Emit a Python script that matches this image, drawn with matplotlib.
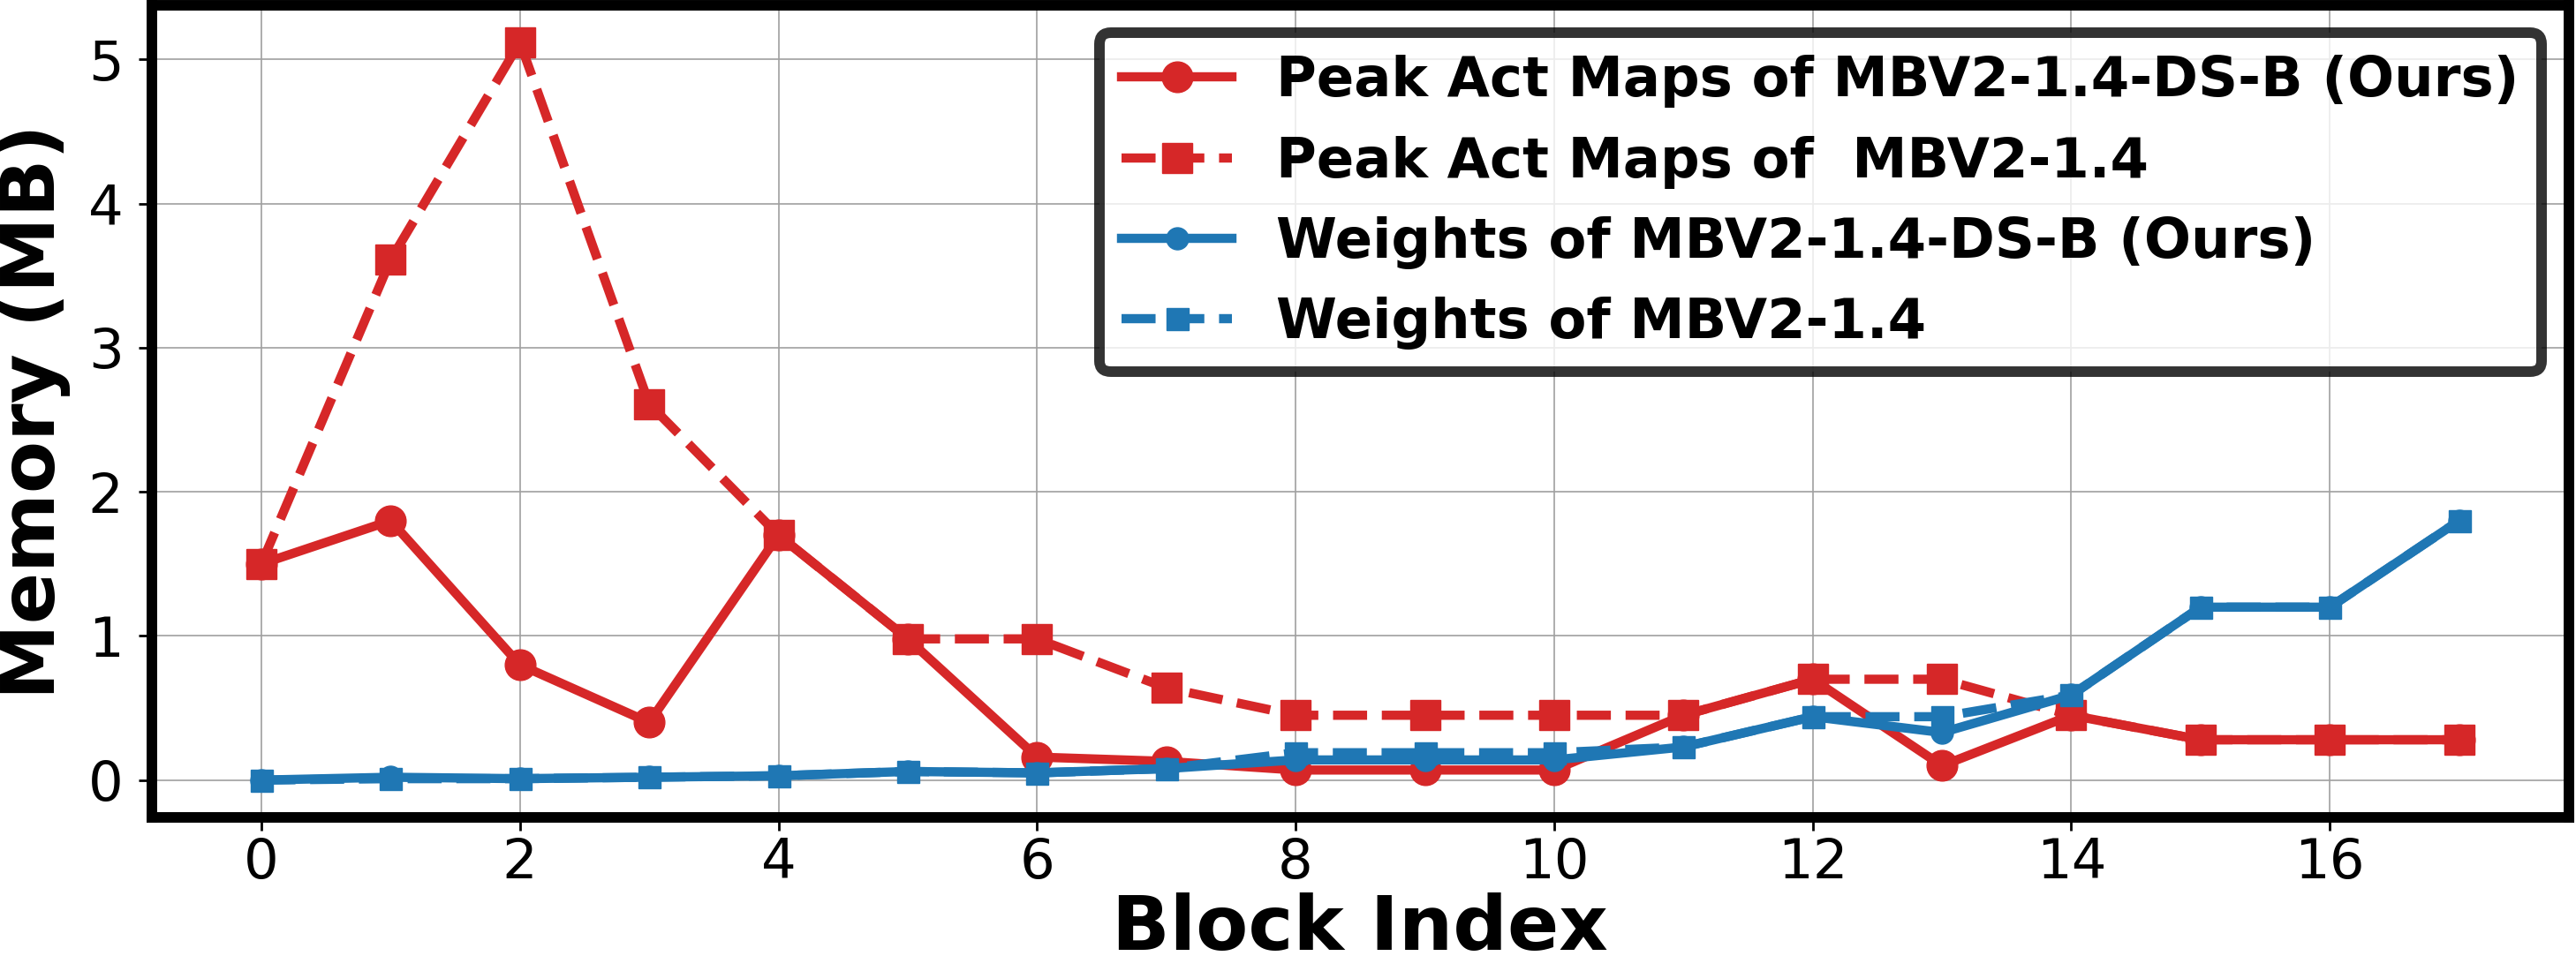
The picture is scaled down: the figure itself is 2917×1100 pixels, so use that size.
import matplotlib
matplotlib.use("Agg")
import matplotlib.pyplot as plt

blocks = list(range(18))
peak_act_ds = [1.50, 1.80, 0.80, 0.40, 1.70, 0.98, 0.16, 0.13, 0.07, 0.07, 0.07, 0.45, 0.70, 0.10, 0.45, 0.28, 0.28, 0.28]
peak_act_base = [1.50, 3.61, 5.12, 2.61, 1.70, 0.98, 0.98, 0.64, 0.45, 0.45, 0.45, 0.45, 0.70, 0.70, 0.45, 0.28, 0.28, 0.28]
weights_ds = [0.00, 0.02, 0.01, 0.02, 0.03, 0.06, 0.05, 0.08, 0.14, 0.14, 0.14, 0.23, 0.44, 0.33, 0.59, 1.20, 1.20, 1.80]
weights_base = [0.00, 0.01, 0.01, 0.02, 0.03, 0.06, 0.05, 0.08, 0.19, 0.19, 0.19, 0.23, 0.44, 0.44, 0.59, 1.20, 1.20, 1.80]

labels = ["Peak Act Maps of MBV2-1.4-DS-B (Ours)",
          "Peak Act Maps of  MBV2-1.4",
          "Weights of MBV2-1.4-DS-B (Ours)",
          "Weights of MBV2-1.4"]

RED = "#d62728"
BLUE = "#1f77b4"

fig = plt.figure(figsize=(29.17, 11), dpi=100)
ax = fig.add_axes([0.0588, 0.1586, 0.9973 - 0.0588, 0.9945 - 0.1586])

lw = 7.5
ax.plot(blocks, peak_act_ds, color=RED, lw=lw, ls="-", marker="o", ms=25, label=labels[0])
ax.plot(blocks, peak_act_base, color=RED, lw=lw, ls="--", marker="s", ms=25, label=labels[1])
ax.plot(blocks, weights_ds, color=BLUE, lw=lw, ls="-", marker="o", ms=18, label=labels[2])
ax.plot(blocks, weights_base, color=BLUE, lw=lw, ls="--", marker="s", ms=18, label=labels[3])

ax.grid(True, color="#a0a0a0", lw=1.2)
ax.set_axisbelow(True)

ax.set_xticks([0, 2, 4, 6, 8, 10, 12, 14, 16])
ax.set_yticks([0, 1, 2, 3, 4, 5])
ax.tick_params(axis="both", labelsize=45, length=11, width=2, direction="out")
ax.tick_params(axis="y", pad=12)
ax.tick_params(axis="x", pad=5)

for s in ax.spines.values():
    s.set_linewidth(8.6)
    s.set_color("black")

ax.set_xlabel("Block Index", fontsize=62, fontweight="bold", labelpad=2)
ax.set_ylabel("Memory (MB)", fontsize=62, fontweight="bold", labelpad=14)

leg = ax.legend(loc="upper right", fontsize=45, prop={"weight": "bold", "size": 45},
                edgecolor="black", framealpha=0.8, fancybox=True)
leg.get_frame().set_linewidth(8.6)

fig.savefig("out.png", dpi=100)
